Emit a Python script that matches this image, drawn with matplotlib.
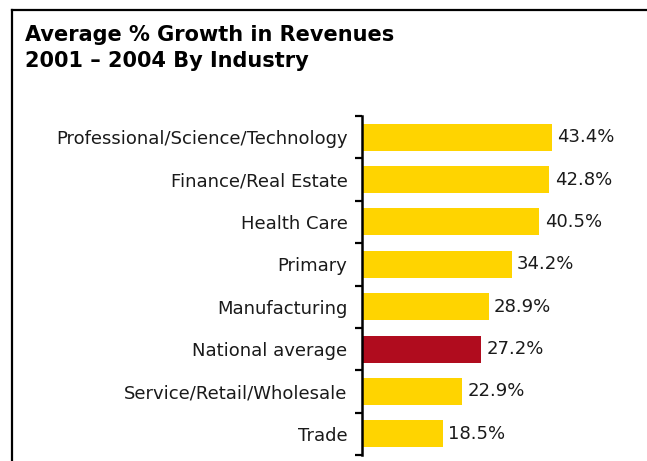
import numpy as np
import matplotlib.pyplot as plt
from matplotlib.lines import Line2D

categories = ['Professional/Science/Technology', 'Finance/Real Estate', 'Health Care',
              'Primary', 'Manufacturing', 'National average',
              'Service/Retail/Wholesale', 'Trade']
growth = [43.4, 42.8, 40.5, 34.2, 28.9, 27.2, 22.9, 18.5]
labels = ['43.4%', '42.8%', '40.5%', '34.2%', '28.9%', '27.2%', '22.9%', '18.5%']
title_lines = ['Average % Growth in Revenues', '2001 \u2013 2004 By Industry']

yellow = '#FFD400'
red = '#B00C1E'
colors = [red if c == 'National average' else yellow for c in categories]

W, H = 647, 461
fig = plt.figure(figsize=(W / 100, H / 100), dpi=100)
plt.rcParams['font.family'] = 'DejaVu Sans'

# frame: only top and left edges are visible
fig.add_artist(Line2D([12 / W, 1], [1 - 10 / H, 1 - 10 / H], color='black', lw=1.6,
                      transform=fig.transFigure))
fig.add_artist(Line2D([12 / W, 12 / W], [1 - 10 / H, 0], color='black', lw=1.6,
                      transform=fig.transFigure))

for i, line in enumerate(title_lines):
    fig.text(25 / W, 1 - (41 + 26 * i) / H, line, fontsize=15, fontweight='bold',
             va='baseline', ha='left')

left, right = 362 / W, 645 / W
bottom, top = 1 - 455 / H, 1 - 116 / H
ax = fig.add_axes([left, bottom, right - left, top - bottom])

y = np.arange(len(categories))
ax.barh(y, growth, height=0.64, color=colors)
for yi, v, lab in zip(y, growth, labels):
    ax.text(v + 1.2, yi, lab, va='center', ha='left', fontsize=13, color='#1a1a1a')

ax.set_xlim(0, (645 - 362) / 4.38)
ax.set_ylim(len(categories) - 0.5, -0.5)
ax.set_yticks(y)
ax.set_yticklabels(categories, fontsize=13, color='#1a1a1a')
ax.set_yticks(np.arange(len(categories) + 1) - 0.5, minor=True)
ax.tick_params(axis='y', which='major', length=0, pad=10.5)
ax.tick_params(axis='y', which='minor', length=5, width=1.6, color='black')
ax.set_xticks([])
for s in ['top', 'right', 'bottom']:
    ax.spines[s].set_visible(False)
ax.spines['left'].set_linewidth(1.8)

fig.savefig('out.png', dpi=100)
